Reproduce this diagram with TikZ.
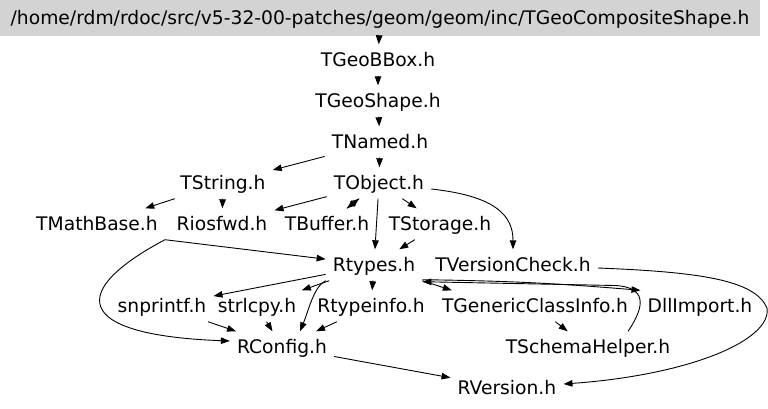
\documentclass[tikz,border=0pt]{standalone}
\usepackage{fontspec}
\setmainfont{DejaVu Sans}
\usetikzlibrary{arrows.meta}
\definecolor{boxgray}{RGB}{211,211,211}
\begin{document}
\begin{tikzpicture}[x=1pt,y=-1pt,
  lbl/.style={font=\fontsize{18.7}{22}\selectfont, inner xsep=7pt, inner ysep=0pt,
              text height=13.6pt, text depth=0pt, minimum height=31pt},
  e/.style={-{Triangle[length=9pt,width=6.5pt]}, line width=0.9pt}]
\useasboundingbox (0,0) rectangle (768,408);
\node[lbl, fill=boxgray, minimum width=760pt, minimum height=36pt] (top) at (380,18)
  {/home/rdm/rdoc/src/v5-32-00-patches/geom/geom/inc/TGeoCompositeShape.h};
\node[lbl] (gbbox) at (378,60) {TGeoBBox.h};
\node[lbl] (gshape) at (378,101) {TGeoShape.h};
\node[lbl] (tnamed) at (380,142) {TNamed.h};
\node[lbl] (tstring) at (223,183) {TString.h};
\node[lbl] (tobject) at (379,183) {TObject.h};
\node[lbl] (tmath) at (97,224) {TMathBase.h};
\node[lbl] (riosfwd) at (222,224) {Riosfwd.h};
\node[lbl] (tbuffer) at (327,224) {TBuffer.h};
\node[lbl] (tstorage) at (440,224) {TStorage.h};
\node[lbl] (rtypes) at (374,265) {Rtypes.h};
\node[lbl] (tversion) at (513,265) {TVersionCheck.h};
\node[lbl] (snprintf) at (162,306) {snprintf.h};
\node[lbl] (strlcpy) at (257,306) {strlcpy.h};
\node[lbl] (rtypeinfo) at (371,306) {Rtypeinfo.h};
\node[lbl] (tgeneric) at (535,306) {TGenericClassInfo.h};
\node[lbl] (dllimport) at (700,306) {DllImport.h};
\node[lbl] (rconfig) at (282,347) {RConfig.h};
\node[lbl] (tschema) at (588,347) {TSchemaHelper.h};
\node[lbl] (rversion) at (507,388) {RVersion.h};

\draw[e] (top) -- (gbbox);
\draw[e] (gbbox) -- (gshape);
\draw[e] (gshape) -- (tnamed);
\draw[e] (tnamed) -- (tstring);
\draw[e] (tnamed) -- (tobject);
\draw[e] (tstring) -- (tmath);
\draw[e] (tstring) -- (riosfwd);
\draw[e] (tobject) -- (riosfwd);
\draw[e] (tobject) -- (tbuffer);
\draw[e] (tbuffer) -- (tobject);
\draw[e] (tobject) -- (tstorage);
\draw[e] (tobject) -- (rtypes);
\draw[e] ([yshift=-6pt]tobject.east) .. controls (495,196) and (513,215) .. (tversion.north);
\draw[e] (tstorage) -- (rtypes);
\draw[e] (tmath.south east) -- (rtypes);
\draw[e] (tmath.south east) .. controls (70,290) and (70,335) .. ([yshift=6pt]rconfig.west);
\draw[e] (rtypes) -- (snprintf);
\draw[e] (rtypes) -- (strlcpy);
\draw[e] (rtypes.south west) .. controls (314,286) and (308,312) .. ([xshift=18pt]rconfig.north);
\draw[e] (rtypes) -- (rtypeinfo);
\draw[e] (rtypes.south east) -- ([xshift=17pt]tgeneric.north west);
\draw[e] ([yshift=1pt]rtypes.south east) to[bend left=2] (dllimport.north west);
\draw[e] ([xshift=40pt]tschema.north) .. controls (646,305) and (646,287) .. (615,285.5) -- ([yshift=-1pt]rtypes.south east);
\draw[e] (tgeneric) -- (tschema);
\draw[e] (snprintf) -- (rconfig);
\draw[e] (strlcpy) -- (rconfig);
\draw[e] (rtypeinfo) -- (rconfig);
\draw[e] (rconfig) -- (rversion);
\draw[e] ([yshift=-3pt]tversion.east) .. controls (700,272) and (755,280) .. (767,308)
  .. controls (772,340) and (690,375) .. ([yshift=4pt]rversion.east);
\end{tikzpicture}
\end{document}
